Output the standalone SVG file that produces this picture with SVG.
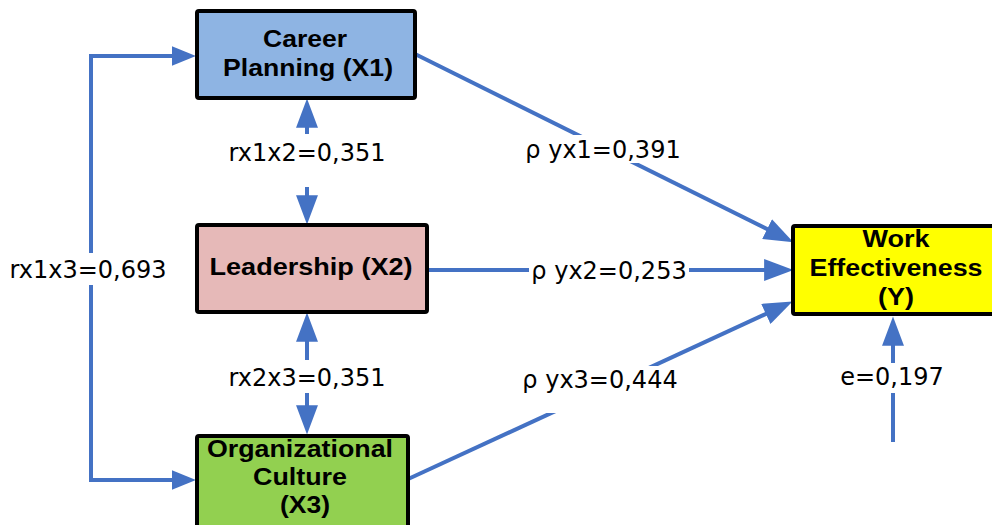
<svg xmlns="http://www.w3.org/2000/svg" width="992" height="525" viewBox="0 0 992 525">
<defs>
<marker id="ah" markerUnits="userSpaceOnUse" markerWidth="30" markerHeight="22" viewBox="0 0 28 21" refX="18" refY="10.5" orient="auto-start-reverse"><path d="M0,0 L28,10.5 L0,21 z" fill="#4472C4"/></marker>
<marker id="ahs" markerUnits="userSpaceOnUse" markerWidth="24" markerHeight="20" viewBox="0 0 22 18" refX="12" refY="9" orient="auto-start-reverse"><path d="M0,0 L22,9 L0,18 z" fill="#4472C4"/></marker>
<style>
.c{stroke:#4472C4;stroke-width:4;fill:none}
.box{stroke:#000;stroke-width:4}
.bl{font-family:"Liberation Sans",Arial,sans-serif;font-weight:bold;font-size:23px;fill:#000;text-anchor:middle}
.lb{font-family:"DejaVu Sans",Verdana,sans-serif;font-size:24px;fill:#000;text-anchor:middle;dominant-baseline:central}
.bg{fill:#fff}
</style>
</defs>
<g id="connectors">
<path class="c" d="M185,56 H91 V480 H185" marker-start="url(#ahs)" marker-end="url(#ahs)"/>
<rect class="bg" x="8" y="253" width="164" height="32"/>
<text class="lb" x="88" y="270">rx1x3=0,693</text>
<path class="c" d="M307,134 V109" marker-end="url(#ah)"/>
<path class="c" d="M307,187 V214" marker-end="url(#ah)"/>
<text class="lb" x="307" y="153">rx1x2=0,351</text>
<path class="c" d="M307,360 V323" marker-end="url(#ah)"/>
<path class="c" d="M307,393 V424" marker-end="url(#ah)"/>
<text class="lb" x="307" y="378">rx2x3=0,351</text>
<path class="c" d="M413,53 L784,237.5" marker-end="url(#ah)"/>
<rect class="bg" x="518" y="135" width="170" height="28"/>
<text class="lb" x="603" y="150">ρ yx1=0,391</text>
<path class="c" d="M429,270 H783" marker-end="url(#ah)"/>
<rect class="bg" x="529" y="257" width="160" height="28"/>
<text class="lb" x="609" y="271">ρ yx2=0,253</text>
<path class="c" d="M406,480 L783,306" marker-end="url(#ah)"/>
<rect class="bg" x="512" y="366" width="180" height="47"/>
<text class="lb" x="600" y="380">ρ yx3=0,444</text>
<path class="c" d="M893,442 V327" marker-end="url(#ah)"/>
<rect class="bg" x="838" y="363" width="110" height="30"/>
<text class="lb" x="892" y="377">e=0,197</text>
</g>
<g id="x1">
<rect class="box" x="197" y="11" width="218" height="87" rx="2" fill="#8EB4E3"/>
<text class="bl" x="305" y="47" textLength="84" lengthAdjust="spacingAndGlyphs">Career</text>
<text class="bl" x="308" y="76" textLength="170" lengthAdjust="spacingAndGlyphs">Planning (X1)</text>
</g>
<g id="x2">
<rect class="box" x="197" y="225" width="230" height="87" rx="2" fill="#E6B9B8"/>
<text class="bl" x="311" y="275" textLength="203" lengthAdjust="spacingAndGlyphs">Leadership (X2)</text>
</g>
<g id="x3">
<rect class="box" x="197" y="436" width="211" height="100" rx="2" fill="#92D050"/>
<text class="bl" x="300" y="457" textLength="186" lengthAdjust="spacingAndGlyphs">Organizational</text>
<text class="bl" x="300" y="485" textLength="94" lengthAdjust="spacingAndGlyphs">Culture</text>
<text class="bl" x="305" y="513" textLength="50" lengthAdjust="spacingAndGlyphs">(X3)</text>
</g>
<g id="y">
<rect class="box" x="793" y="226" width="210" height="88" rx="2" fill="#FFFF00"/>
<text class="bl" x="896" y="247" textLength="67" lengthAdjust="spacingAndGlyphs">Work</text>
<text class="bl" x="896" y="276" textLength="173" lengthAdjust="spacingAndGlyphs">Effectiveness</text>
<text class="bl" x="896" y="305" textLength="36" lengthAdjust="spacingAndGlyphs">(Y)</text>
</g>
</svg>
